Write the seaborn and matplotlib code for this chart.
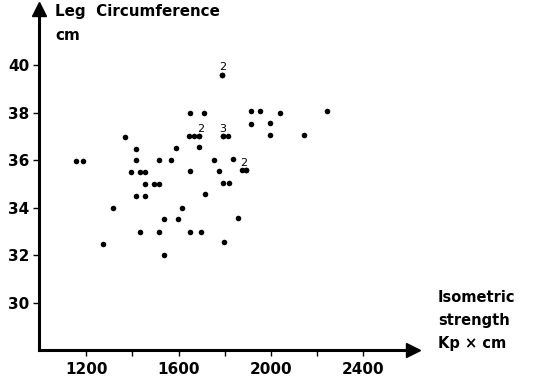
import pandas as pd
import matplotlib
matplotlib.use("Agg")
import matplotlib.pyplot as plt
import seaborn as sns

# isometric strength (Kp x cm) and leg circumference (cm); coincident points repeated
strength = [1788, 1788,
            1650, 1711, 1912, 1952, 2040, 2244,
            1912, 1994,
            1994, 2144, 1643, 1668, 1690, 1690, 1794, 1794, 1814, 1368,
            1417, 1590, 1690,
            1156, 1188, 1417, 1513, 1569, 1752, 1834,
            1875, 1891, 1891, 1392, 1431, 1454, 1650, 1775,
            1454, 1492, 1513, 1791, 1817,
            1417, 1454, 1714,
            1316, 1615,
            1538, 1596, 1856,
            1434, 1513, 1650, 1698,
            1274, 1798,
            1535]
circumference = [39.6, 39.6,
                 38.0, 38.0, 38.05, 38.05, 38.0, 38.05,
                 37.5, 37.55,
                 37.05, 37.05, 37.0, 37.0, 37.0, 37.0, 37.0, 37.0, 37.0, 36.96,
                 36.46, 36.5, 36.55,
                 35.97, 35.97, 36.0, 36.0, 36.0, 36.0, 36.05,
                 35.57, 35.57, 35.57, 35.5, 35.5, 35.5, 35.52, 35.52,
                 35.0, 35.0, 35.0, 35.02, 35.02,
                 34.5, 34.5, 34.56,
                 34.0, 34.0,
                 33.5, 33.5, 33.55,
                 32.98, 32.98, 32.98, 32.98,
                 32.46, 32.53,
                 32.0]

# multiplicity labels
label_x = [1789, 1697, 1792, 1882]
label_y = [39.6, 37.0, 37.0, 35.57]
label_text = ["2", "2", "3", "2"]

xticks = [1200, 1400, 1600, 1800, 2000, 2200, 2400]
xticklabels = ["1200", "", "1600", "", "2000", "", "2400"]
yticks = [30, 32, 34, 36, 38, 40]

df = pd.DataFrame({"strength": strength, "circumference": circumference})

sns.set_style("ticks")
plt.rcParams["font.family"] = ["DejaVu Sans"]
plt.rcParams["text.color"] = "black"

fig = plt.figure(figsize=(5.36, 3.78), dpi=100)
ax = fig.add_axes([0.073, 0.0741, 0.698, 0.902])

sns.scatterplot(data=df, x="strength", y="circumference", color="black",
                s=16, linewidth=0, ax=ax)

for lx, ly, t in zip(label_x, label_y, label_text):
    ax.annotate(t, (lx, ly), xytext=(0, 1.5), textcoords="offset points",
                ha="center", va="bottom", fontsize=8, color="black")

ax.set_xlim(996, 2616)
ax.set_ylim(28, 42.36)
ax.set_xticks(xticks)
ax.set_xticklabels(xticklabels)
ax.set_yticks(yticks)
ax.tick_params(direction="out", length=4, width=1.0, color="black",
               labelcolor="black", labelsize=11)
ax.tick_params(axis="x", pad=4.5)
ax.tick_params(axis="y", pad=3)
for lab in ax.get_xticklabels() + ax.get_yticklabels():
    lab.set_fontweight("bold")
ax.set_xlabel("")
ax.set_ylabel("")

sns.despine(ax=ax)
for side in ["left", "bottom"]:
    ax.spines[side].set_linewidth(2.2)
    ax.spines[side].set_color("black")

# arrow heads on the axes
ax.plot([0], [1], marker="^", color="black", markersize=10,
        transform=ax.transAxes, clip_on=False)
ax.plot([1], [0], marker=">", color="black", markersize=10,
        transform=ax.transAxes, clip_on=False)

fig.text(55 / 536, 1 - 4 / 378, "Leg  Circumference\ncm", ha="left", va="top",
         fontsize=10.9, fontweight="bold", linespacing=1.75, color="black")
fig.text(438 / 536, 1 - 290 / 378, "Isometric\nstrength\nKp \u00d7 cm", ha="left",
         va="top", fontsize=10.5, fontweight="bold", linespacing=1.65,
         color="black")

fig.savefig("out.png", dpi=100)
